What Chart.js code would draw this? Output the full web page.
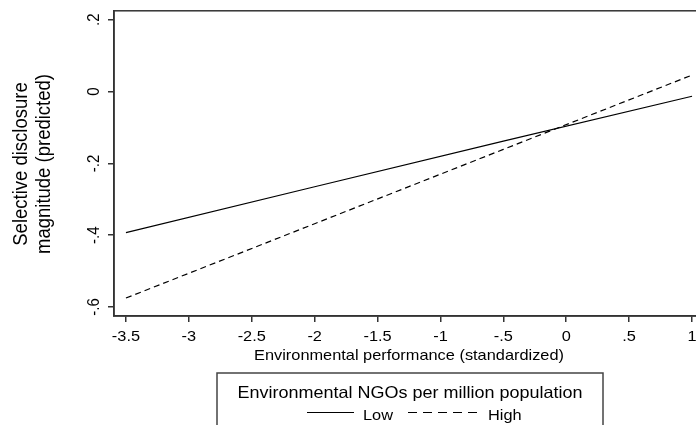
<!DOCTYPE html>
<html>
<head>
<meta charset="utf-8">
<script src="https://cdn.jsdelivr.net/npm/chart.js@4.4.1/dist/chart.umd.min.js"></script>
<style>
    html, body { margin: 0; padding: 0; background: #fff; overflow: hidden; }
    #wrap { width: 710px; height: 425px; }
</style>
</head>
<body>
<div id="wrap"><canvas id="chart" width="710" height="425"></canvas></div>
<script>
// Values
const xValues = [-3.5, -2, -0.5, 1];
const lowValues = [-0.393, -0.265, -0.138, -0.013];
const highValues = [-0.575, -0.368, -0.161, 0.046];
const seriesNames = ['Low', 'High'];
const xTicks = [-3.5, -3, -2.5, -2, -1.5, -1, -0.5, 0, 0.5, 1];
const yTicks = [-0.6, -0.4, -0.2, 0, 0.2];

const FONT = '"Liberation Sans", Arial, sans-serif';
const STRETCH = 1.09; // the original export is a little wider than tall

function stataLabel(v) {
    const r = Math.round(v * 10) / 10;
    return String(r).replace('0.', '.');
}

function pts(values) {
    return xValues.map((x, i) => ({ x: x, y: values[i] }));
}

function wideText(ctx, text, x, y, size, rotated) {
    ctx.save();
    ctx.translate(x, y);
    ctx.scale(STRETCH, 1);
    if (rotated) ctx.rotate(-Math.PI / 2);
    ctx.font = size + 'px ' + FONT;
    ctx.fillText(text, 0, 0);
    ctx.restore();
}

// Frame, tick labels, titles and the boxed legend
const decorations = {
    id: 'decorations',
    afterDraw(chart) {
        const ctx = chart.ctx;
        const area = chart.chartArea;
        const xScale = chart.scales.x;
        const yScale = chart.scales.y;
        ctx.save();

        // plot region outline
        ctx.strokeStyle = '#333';
        ctx.lineWidth = 1.5;
        ctx.strokeRect(area.left, area.top, area.right - area.left, area.bottom - area.top);

        ctx.fillStyle = '#000';
        ctx.textAlign = 'center';

        // tick labels
        ctx.textBaseline = 'middle';
        xTicks.forEach(v => {
            wideText(ctx, stataLabel(v), xScale.getPixelForValue(v), 336.5, 15, false);
        });
        yTicks.forEach(v => {
            wideText(ctx, stataLabel(v), 94, yScale.getPixelForValue(v), 15, true);
        });

        // axis titles
        ctx.textBaseline = 'alphabetic';
        const midY = 164;
        wideText(ctx, 'Selective disclosure', 27, midY, 18.5, true);
        wideText(ctx, 'magnitude (predicted)', 50, midY, 18.5, true);
        const midX = (area.left + area.right) / 2;
        wideText(ctx, 'Environmental performance (standardized)', midX, 360, 15, false);

        // legend box
        ctx.strokeStyle = '#444';
        ctx.lineWidth = 1.5;
        ctx.strokeRect(217, 373, 386, 80);
        wideText(ctx, 'Environmental NGOs per million population', 410, 397.5, 16.5, false);

        ctx.textAlign = 'left';
        const items = [
            { x0: 307, x1: 354, tx: 363, dash: [] },
            { x0: 408, x1: 478, tx: 488, dash: [9, 6] }
        ];
        items.forEach((it, i) => {
            ctx.strokeStyle = '#000';
            ctx.lineWidth = 1.1;
            ctx.setLineDash(it.dash);
            ctx.beginPath();
            ctx.moveTo(it.x0, 412.5);
            ctx.lineTo(it.x1, 412.5);
            ctx.stroke();
            ctx.setLineDash([]);
            wideText(ctx, seriesNames[i], it.tx, 419.5, 15, false);
        });

        ctx.restore();
    }
};

new Chart(document.getElementById('chart'), {
    type: 'scatter',
    data: {
        datasets: [
            {
                label: seriesNames[0],
                data: pts(lowValues),
                showLine: true,
                borderColor: '#000',
                borderWidth: 1.2,
                pointRadius: 0
            },
            {
                label: seriesNames[1],
                data: pts(highValues),
                showLine: true,
                borderColor: '#000',
                borderWidth: 1.2,
                borderDash: [6, 4],
                pointRadius: 0
            }
        ]
    },
    options: {
        responsive: false,
        animation: false,
        devicePixelRatio: 1,
        layout: { padding: { top: 6, right: 6, left: 0, bottom: 0 } },
        plugins: {
            legend: { display: false },
            tooltip: { enabled: false }
        },
        scales: {
            x: {
                type: 'linear',
                min: -3.595,
                max: 1.095,
                afterFit(scale) { scale.height = 109; },
                afterBuildTicks(scale) { scale.ticks = xTicks.map(v => ({ value: v })); },
                ticks: {
                    color: 'rgba(0,0,0,0)',
                    font: { family: FONT, size: 13 },
                    maxRotation: 0,
                    callback: v => stataLabel(v)
                },
                grid: { drawOnChartArea: false, drawTicks: true, tickLength: 6, color: '#333', lineWidth: 1.5 },
                border: { display: true, color: '#333', width: 1.5 }
            },
            y: {
                type: 'linear',
                min: -0.625,
                max: 0.225,
                afterFit(scale) { scale.width = 114; },
                afterBuildTicks(scale) { scale.ticks = yTicks.map(v => ({ value: v })); },
                ticks: {
                    color: 'rgba(0,0,0,0)',
                    font: { family: FONT, size: 13 },
                    callback: v => stataLabel(v)
                },
                grid: { drawOnChartArea: false, drawTicks: true, tickLength: 6, color: '#333', lineWidth: 1.5 },
                border: { display: true, color: '#333', width: 1.5 }
            }
        }
    },
    plugins: [decorations]
});
</script>
</body>
</html>
